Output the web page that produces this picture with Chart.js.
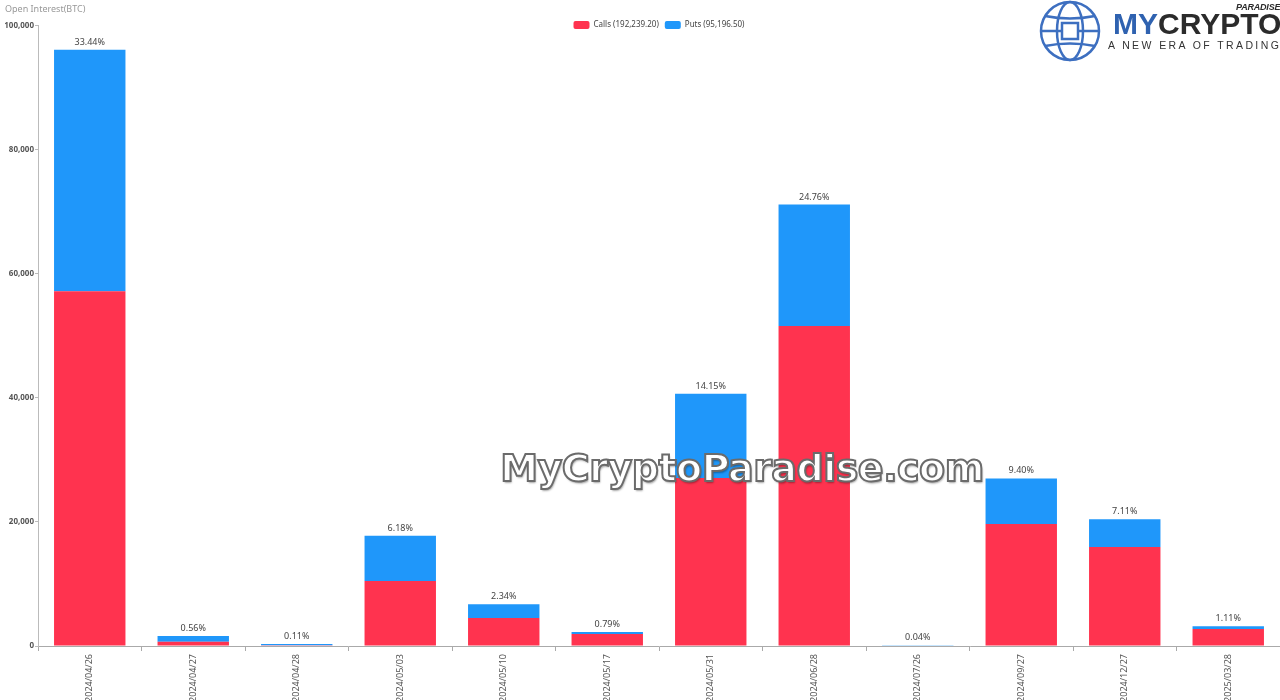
<!DOCTYPE html>
<html>
<head>
<meta charset="utf-8">
<title>Open Interest by Expiry</title>
<script src="https://cdn.jsdelivr.net/npm/chart.js@4.4.1/dist/chart.umd.min.js"></script>
<style>
  html, body { margin: 0; padding: 0; background: #fff; }
  #wrap { position: relative; width: 1280px; height: 700px; overflow: hidden; }
  #myChart { position: absolute; left: 0; top: 0; }
  .mark {
    position: absolute; left: 492px; top: 446px; width: 500px; text-align: center;
    font-family: "DejaVu Sans", sans-serif; font-weight: bold; font-size: 38px;
    color: #fff; -webkit-text-stroke: 2px #6b6b6b; letter-spacing: -0.5px;
    text-shadow: 1px 2px 2px rgba(0,0,0,0.35);
  }
  .logo-main { position: absolute; left: 1113px; top: 9px; font-family: "Liberation Sans", Arial, sans-serif;
    font-weight: bold; font-size: 30px; line-height: 30px; white-space: nowrap; }
  .logo-main .my { color: #2f62b0; }
  .logo-main .cr { color: #2b2b2b; }
  .logo-par { position: absolute; left: 1236px; top: 2px; font-family: "Liberation Sans", Arial, sans-serif;
    font-weight: bold; font-style: italic; font-size: 9px; letter-spacing: -0.2px; color: #2b2b2b; }
  .logo-sub { position: absolute; left: 1108px; top: 39px; font-family: "Liberation Sans", Arial, sans-serif;
    font-size: 10.5px; letter-spacing: 2.4px; color: #333; white-space: nowrap; }
  .globe { position: absolute; left: 1038px; top: 0px; }
</style>
</head>
<body>
<div id="wrap">
  <canvas id="myChart" width="1280" height="700"></canvas>
  <div class="mark">MyCryptoParadise.com</div>
  <svg class="globe" width="64" height="62" viewBox="0 0 64 62">
    <g fill="none" stroke="#3d6fc0" stroke-width="2.5">
      <circle cx="32" cy="31" r="29"/>
      <ellipse cx="32" cy="31" rx="13" ry="29"/>
      <line x1="3" y1="31" x2="61" y2="31"/>
      <path d="M7 16 Q32 21 57 16"/>
      <path d="M7 46 Q32 41 57 46"/>
      <rect x="24" y="23" width="16" height="16" fill="#fff"/>
    </g>
  </svg>
  <div class="logo-par">PARADISE</div>
  <div class="logo-main"><span class="my">MY</span><span class="cr">CRYPTO</span></div>
  <div class="logo-sub">A NEW ERA OF TRADING</div>
</div>
<script>
// expiry dates
const expiries = [
  '2024/04/26', '2024/04/27', '2024/04/28', '2024/05/03', '2024/05/10', '2024/05/17',
  '2024/05/31', '2024/06/28', '2024/07/26', '2024/09/27', '2024/12/27', '2025/03/28'
]

// open interest (BTC)
const calls = [57200, 700, 120, 10480, 4520, 1940, 27100, 51600, 80, 19680, 15970, 2740]
const puts = [38920, 910, 196, 7280, 2210, 330, 13570, 19570, 35, 7340, 4470, 450]

// share of total open interest shown above each bar
const shareLabels = ['33.44%', '0.56%', '0.11%', '6.18%', '2.34%', '0.79%',
  '14.15%', '24.76%', '0.04%', '9.40%', '7.11%', '1.11%']

const callsTotal = '192,239.20'
const putsTotal = '95,196.50'

const yTicks = [0, 20000, 40000, 60000, 80000, 100000]

const FONT = '"Noto Sans", "Open Sans", sans-serif'

const shareLabelPlugin = {
  id: 'shareLabels',
  afterLayout(chart) {
    // legend sits over the plot area, centred on it, a bit lower than its box
    const lg = chart.legend
    const shift = ((chart.chartArea.left + chart.chartArea.right) - (lg.left + lg.right)) / 2
    lg.left += shift
    lg.right += shift
    lg.top = 15
    lg.bottom = 34
  },
  // percentage text on top of each stacked bar
  afterDatasetsDraw(chart) {
    const ctx = chart.ctx
    const top = chart.getDatasetMeta(1)
    ctx.save()
    ctx.font = '9px ' + FONT
    ctx.fillStyle = '#444'
    ctx.textAlign = 'center'
    ctx.textBaseline = 'bottom'
    top.data.forEach((bar, i) => {
      ctx.fillText(shareLabels[i], bar.x, bar.y - 3)
    })
    ctx.restore()
  }
}

const ctx = document.getElementById('myChart')
const myChart = new Chart(ctx, {
  type: 'bar',
  data: {
    labels: expiries,
    datasets: [{
      label: 'Calls (' + callsTotal + ')',
      data: calls,
      backgroundColor: '#ff334f',
      borderColor: '#ff334f',
      borderWidth: 0,
      barPercentage: 0.69,
      categoryPercentage: 1
    }, {
      label: 'Puts (' + putsTotal + ')',
      data: puts,
      backgroundColor: '#1f97fa',
      borderColor: '#1f97fa',
      borderWidth: 0,
      barPercentage: 0.69,
      categoryPercentage: 1
    }]
  },
  options: {
    responsive: false,
    animation: false,
    layout: { padding: { left: 5, right: 0, top: 0, bottom: 0 } },
    plugins: {
      title: {
        display: true,
        text: 'Open Interest(BTC)',
        align: 'start',
        color: '#999',
        font: { family: FONT, size: 9, weight: 'normal' },
        padding: { top: 4, bottom: 0 }
      },
      legend: {
        display: true,
        maxHeight: 11,
        labels: {
          boxWidth: 16,
          boxHeight: 8,
          color: '#444',
          font: { family: FONT, size: 8 },
          padding: 6,
          useBorderRadius: true,
          borderRadius: 2
        }
      },
      tooltip: { enabled: false }
    },
    scales: {
      x: {
        stacked: true,
        border: { color: '#aaa', width: 1 },
        grid: { display: true, drawOnChartArea: false, tickLength: 5, color: '#aaa', offset: true },
        ticks: {
          color: '#555',
          font: { family: FONT, size: 9 },
          minRotation: 90,
          maxRotation: 90,
          autoSkip: false,
          padding: 3
        },
        afterFit(scale) { scale.height = 54 }
      },
      y: {
        stacked: true,
        min: 0,
        max: 100000,
        border: { color: '#bbb', width: 1 },
        grid: { display: true, drawOnChartArea: false, tickLength: 3, color: '#bbb' },
        afterBuildTicks(scale) {
          scale.ticks = yTicks.map(v => ({ value: v }))
        },
        ticks: {
          color: '#555',
          font: { family: FONT, size: 8, weight: 'bold' },
          padding: 1,
          callback: v => v.toLocaleString('en-US')
        },
        afterFit(scale) { scale.width = 33 }
      }
    }
  },
  plugins: [shareLabelPlugin]
})
</script>
</body>
</html>
